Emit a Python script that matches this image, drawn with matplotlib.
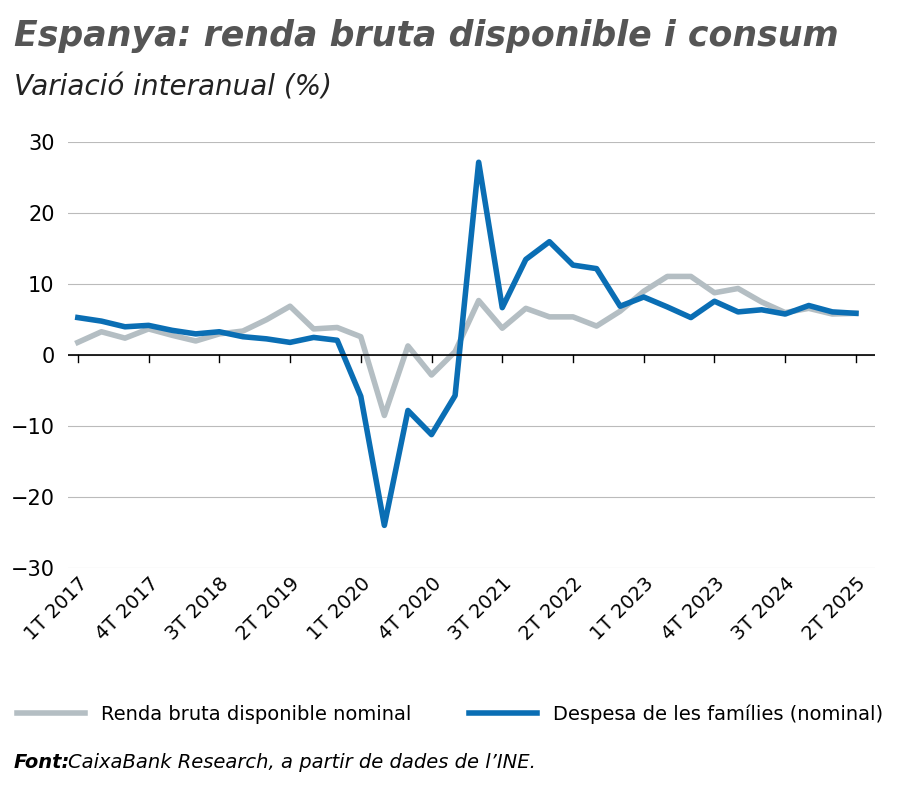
import matplotlib
matplotlib.use("Agg")
import matplotlib.pyplot as plt

labels_all = []
for y in range(2017, 2026):
    for q in range(1, 5):
        labels_all.append(f"{q}T {y}")
labels_all = labels_all[:34]

renda = [1.8, 3.3, 2.4, 3.7, 2.8, 2.0, 3.0, 3.4, 5.0, 6.9, 3.7, 3.9, 2.6, -8.5, 1.3, -2.8, 0.5,
         7.7, 3.8, 6.6, 5.4, 5.4, 4.1, 6.2, 9.0, 11.1, 11.1, 8.8, 9.4, 7.5, 6.0, 6.6, 5.8, 5.9]
despesa = [5.3, 4.8, 4.0, 4.2, 3.5, 3.0, 3.3, 2.6, 2.3, 1.8, 2.5, 2.1, -5.8, -24.0, -7.8, -11.2, -5.7,
           27.2, 6.7, 13.5, 16.0, 12.7, 12.2, 6.9, 8.2, 6.8, 5.3, 7.6, 6.1, 6.4, 5.8, 7.0, 6.1, 5.9]

fig = plt.figure(figsize=(9, 7.91), dpi=100)
ax = fig.add_axes([0.076, 0.282, 0.896, 0.538])
x = list(range(len(labels_all)))
ax.plot(x, renda, color="#b4bec3", lw=4, label="Renda bruta disponible nominal", solid_joinstyle="round")
ax.plot(x, despesa, color="#0a6eb4", lw=4, label="Despesa de les famílies (nominal)", solid_joinstyle="round")
ax.set_ylim(-30, 30)
ax.set_xlim(-0.4, 33.8)
ax.set_yticks(range(-30, 31, 10))
ax.grid(axis="y", color="#bbbbbb", lw=0.8)
ax.axhline(0, color="black", lw=1.2)
ax.set_axisbelow(True)
for s in ax.spines.values():
    s.set_visible(False)
ax.tick_params(axis="y", length=0, labelsize=15, pad=10)
ax.set_xticks(x[::3])
ax.set_xticklabels(labels_all[::3], rotation=45, ha="right", rotation_mode="anchor", fontsize=14)
ax.tick_params(axis="x", length=0, pad=4)
for xi in x[::3]:
    ax.plot([xi, xi], [0, -0.9], color="black", lw=1)

fig.text(0.015, 0.955, "Espanya: renda bruta disponible i consum", fontsize=25, fontweight="bold",
         fontstyle="italic", color="#555555", va="center")
fig.text(0.015, 0.89, "Variació interanual (%)", fontsize=20, fontstyle="italic", color="#222222", va="center")
leg = fig.legend(loc="center", bbox_to_anchor=(0.5, 0.097), ncol=2, frameon=False, fontsize=14,
                 handlelength=3.5, columnspacing=3)
fig.text(0.015, 0.036, "Font:", fontsize=14, fontweight="bold", fontstyle="italic", va="center")
fig.text(0.075, 0.036, "CaixaBank Research, a partir de dades de l’INE.", fontsize=14, fontstyle="italic", va="center")
fig.savefig("out.png", dpi=100)
